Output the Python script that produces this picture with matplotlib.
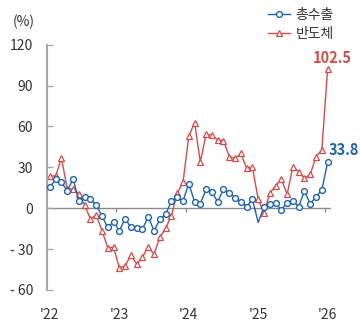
import numpy as np
import matplotlib
matplotlib.use('Agg')
import matplotlib.pyplot as plt

plt.rcParams['font.family'] = ['Noto Sans CJK KR', 'DejaVu Sans']

# monthly YoY growth (%), Jan 2022 - Jan 2026
exports = [15.6, 21.3, 19.0, 12.9, 21.5, 5.3, 8.5, 6.6, 2.4, -5.8,
           -14.1, -9.8, -16.7, -7.6, -14.1, -14.8, -15.3, -6.2, -16.7, -8.0,
           -4.4, 5.2, 8.1, 5.2, 18.0, 4.9, 3.2, 13.9, 11.6, 4.9,
           13.9, 11.5, 7.8, 4.9, 1.2, 6.6, -10.5, 0.9, 3.2, 3.7,
           -1.2, 4.1, 5.6, 1.2, 12.7, 3.2, 8.5, 13.4, 33.8]
chips = [23.7, 23.7, 36.7, 14.2, 14.2, 10.5, 2.4, -7.9, -4.9, -16.5,
         -29.0, -28.6, -43.8, -42.2, -34.5, -41.0, -36.0, -28.2, -33.8, -21.3,
         -14.7, -5.5, 11.0, 18.9, 52.9, 62.8, 34.0, 54.5, 53.5, 50.1,
         49.6, 37.9, 36.5, 40.3, 29.3, 30.1, 6.6, -3.5, 11.0, 16.4,
         21.3, 10.3, 30.5, 26.9, 22.0, 24.9, 37.9, 42.8, 102.5]
year_labels = ["'22", "'23", "'24", "'25", "'26"]
yticks = [120, 90, 60, 30, 0, -30, -60]
ytick_labels = ['120', '90', '60', '30', '0', '- 30', '- 60']

blue = '#1f63ad'
red = '#d44b4b'
gray = '#a8a8a8'

x = np.arange(len(exports)) + 0.5

fig = plt.figure(figsize=(3.6, 3.28), dpi=100)
ax = fig.add_axes([0.1306, 0.1159, 0.7875, 0.7478])

ax.axhline(0, color='#8a8a8a', lw=1.0, zorder=1)
year_pos = np.arange(len(year_labels)) * 12
ax.vlines(year_pos[1:], -3, 0, color='#8a8a8a', lw=1.0, zorder=1)

# the Jan 2025 dip of total exports is drawn without a marker
no_dip = [i for i in range(len(exports)) if i != 36]
ax.plot(x, exports, color=blue, lw=1.0, marker='o', ms=4.2, mfc='white',
        mec=blue, mew=1.0, markevery=no_dip, label='총수출', zorder=3)
ax.plot(x, chips, color=red, lw=1.0, marker='^', ms=4.5, mfc='white',
        mec=red, mew=0.9, label='반도체', zorder=2)

ax.annotate(f'{chips[-1]:.1f}', (x[-1], chips[-1]), xytext=(3.5, 4),
            textcoords='offset points', ha='center', va='baseline',
            color=red, fontsize=10.5, fontweight='bold')
ax.annotate(f'{exports[-1]:.1f}', (x[-1], exports[-1]), xytext=(0.5, 5),
            textcoords='offset points', ha='left', va='baseline',
            color=blue, fontsize=10.5, fontweight='bold')

ax.set_xlim(0, 49)
ax.set_ylim(-60, 120)
ax.set_yticks(yticks)
ax.set_yticklabels(ytick_labels)
ax.set_xticks(year_pos + 0.5)
ax.set_xticklabels(year_labels)

for side in ['top', 'right', 'bottom']:
    ax.spines[side].set_visible(False)
ax.spines['left'].set_color(gray)
ax.spines['left'].set_linewidth(1.5)
ax.tick_params(axis='y', direction='in', length=4, width=1, color=gray,
               pad=10, labelsize=10, labelcolor='#333333')
ax.tick_params(axis='x', length=0, pad=13, labelsize=10, labelcolor='#333333')

fig.text(0.036, 0.955, '(%)', fontsize=10, color='#333333', va='top')

fig.legend(loc='upper left', bbox_to_anchor=(0.72, 1.0), frameon=False,
           fontsize=10, handlelength=1.6, handletextpad=0.4,
           labelspacing=0.35, borderaxespad=0.2, labelcolor='#333333')

fig.savefig('out.png', dpi=100)
